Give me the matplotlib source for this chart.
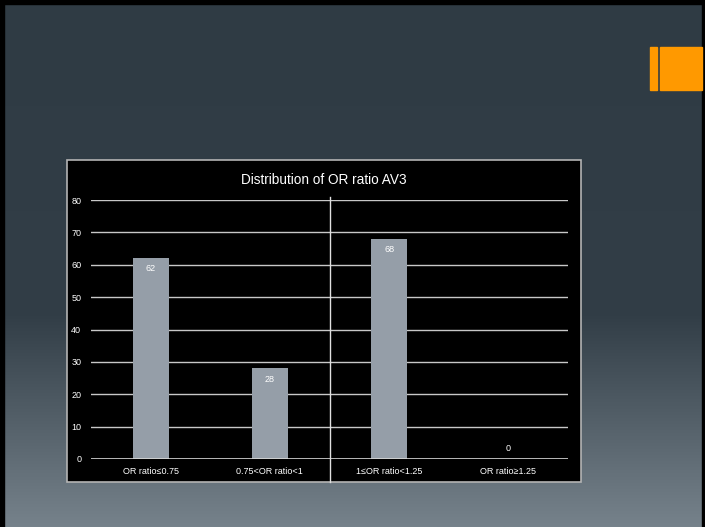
import numpy as np
import matplotlib.pyplot as plt
from matplotlib.colors import LinearSegmentedColormap
from matplotlib.patches import Rectangle

# chart data
categories = ["OR ratio\u22640.75", "0.75<OR ratio<1", "1\u2264OR ratio<1.25", "OR ratio\u22651.25"]
counts = [62, 28, 68, 0]
yticks = [0, 10, 20, 30, 40, 50, 60, 70, 80]
title = "Distribution of OR ratio AV3"

W, H = 705, 527
fig = plt.figure(figsize=(W / 100, H / 100), dpi=100)

# slide background: dark slate fading lighter toward the bottom
bg = fig.add_axes([0, 0, 1, 1])
bg.set_axis_off()
cmap = LinearSegmentedColormap.from_list(
    "slide", [(0, "#2f3b44"), (0.6, "#323e47"), (1, "#76828b")])
grad = np.linspace(0, 1, 256).reshape(-1, 1)
bg.imshow(grad, aspect="auto", cmap=cmap, extent=[0, W, H, 0])
bg.set_xlim(0, W)
bg.set_ylim(H, 0)
# black frame on left, top, right
bg.add_patch(Rectangle((0, 0), 4, H, color="black"))
bg.add_patch(Rectangle((0, 0), W, 4, color="black"))
bg.add_patch(Rectangle((702, 0), 3, H, color="black"))
# orange accent
bg.add_patch(Rectangle((650, 47), 7, 43, color="#ff9900"))
bg.add_patch(Rectangle((660, 47), 42, 43, color="#ff9900"))
# chart box
bg.add_patch(Rectangle((67, 160), 514, 322, facecolor="black",
                       edgecolor="#b4b4b4", lw=1.2))
bg.text(324, 180, title, color="white", fontsize=9.8,
        ha="center", va="center", family="Liberation Sans")

# plot area
ax = fig.add_axes([91 / W, (H - 459) / H, 477 / W, 259 / H])
ax.set_facecolor("none")
x = np.arange(len(categories))
bars = ax.bar(x, counts, width=0.3, color="#959ea8", zorder=3)
for v in yticks[1:]:
    ax.axhline(v, color="#c8c8c8", lw=1, zorder=1)
ax.axhline(0, color="#d8d8d8", lw=1.2, zorder=4)
ax.axvline(1.5, ymin=-0.089, ymax=1.012, color="#e0e0e0", lw=1,
           clip_on=False, zorder=4)

for xi, v in zip(x, counts):
    if v > 5:
        ax.text(xi, v - 3.3, str(v), color="white", fontsize=6.5,
                ha="center", va="center", family="Liberation Sans", zorder=5)
    else:
        ax.text(xi, v + 3.3, str(v), color="white", fontsize=6.5,
                ha="center", va="center", family="Liberation Sans", zorder=5)

ax.set_xlim(-0.5, len(categories) - 0.5)
ax.set_ylim(0, 80)
ax.set_yticks(yticks)
ax.set_xticks(x)
ax.set_xticklabels(categories)
ax.tick_params(length=0, colors="white", labelsize=6.5, pad=6)
for lab in ax.get_xticklabels() + ax.get_yticklabels():
    lab.set_family("Liberation Sans")
ax.tick_params(axis="y", pad=7)
for s in ax.spines.values():
    s.set_visible(False)

fig.savefig("out.png", dpi=100)
